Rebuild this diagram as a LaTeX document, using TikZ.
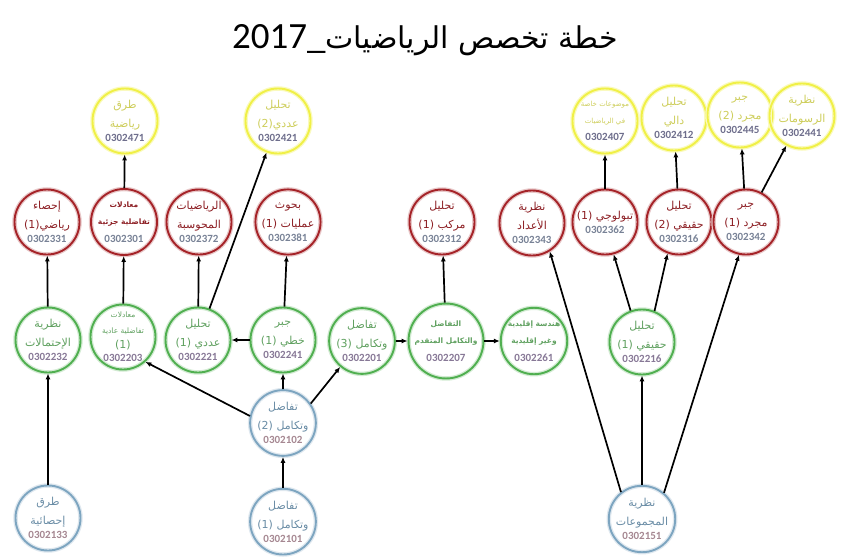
\documentclass[tikz,border=0pt]{standalone}
\usepackage{fontspec}
\newfontfamily\arabicfont[Script=Arabic]{DejaVu Sans}
\newfontfamily\numfont{Carlito}
\TeXXeTstate=1
\usetikzlibrary{arrows.meta,positioning}
\definecolor{yelline}{RGB}{240,240,70}
\definecolor{yeltext}{RGB}{205,205,90}
\definecolor{yelnum}{RGB}{110,110,140}
\definecolor{redline}{RGB}{165,35,40}
\definecolor{redtext}{RGB}{140,30,35}
\definecolor{rednum}{RGB}{120,130,150}
\definecolor{grnline}{RGB}{80,175,80}
\definecolor{grntext}{RGB}{95,160,95}
\definecolor{grnnum}{RGB}{135,120,150}
\definecolor{bluline}{RGB}{125,165,192}
\definecolor{blutext}{RGB}{105,140,165}
\definecolor{blunum}{RGB}{165,135,145}
\newcommand{\crsnum}[1]{{\numfont\bfseries\fontsize{11}{12}\selectfont\color{numcol}#1}}
\newcommand{\crs}[3]{#1\\#2\\[-5pt]\crsnum{#3}}
\newcommand{\smalltxt}{\fontsize{7.5}{11}\selectfont\bfseries}
\tikzset{
    course/.style={circle, minimum size=65pt, inner sep=0pt, line width=1.9pt,
        align=center, font=\arabicfont\fontsize{11}{19}\selectfont},
    yelcrs/.style={course, draw=yelline, text=yeltext,
        preaction={draw=yelline!35, line width=4.5pt},
        execute at begin node={\colorlet{numcol}{yelnum}}},
    redcrs/.style={course, draw=redline, text=redtext,
        preaction={draw=redline!25, line width=4.5pt},
        execute at begin node={\colorlet{numcol}{rednum}}},
    grncrs/.style={course, draw=grnline, text=grntext,
        preaction={draw=grnline!25, line width=4.5pt},
        execute at begin node={\colorlet{numcol}{grnnum}}},
    blucrs/.style={course, draw=bluline, text=blutext,
        preaction={draw=bluline!25, line width=4.5pt},
        execute at begin node={\colorlet{numcol}{blunum}}},
    prereq/.style={-{Latex[length=6pt,width=5pt]}, line width=1.7pt}
}
\begin{document}
\begin{tikzpicture}[x=1pt,y=-1pt]
\useasboundingbox (0,0) rectangle (844,557);

\node[font=\arabicfont\fontsize{30}{32}\selectfont] (title) at (425,40)
    {\beginR خطة تخصص الرياضيات{\numfont\fontsize{37}{38}\selectfont\char"5F\beginL 2017\endL}\endR};

% yellow row
\node[yelcrs] (y1) at (125,121) {\crs{\beginR طرق\endR}{\beginR رياضية\endR}{0302471}};
\node[yelcrs] (y2) at (278,121) {\crs{\beginR تحليل\endR}{\beginR عددي(2)\endR}{0302421}};
\node[yelcrs] (y3) at (605,121) {{\fontsize{7}{11}\selectfont\beginR موضوعات خاصة\endR}\\[-2pt]{\fontsize{7}{11}\selectfont\beginR في الرياضيات\endR}\\[-2pt]\crsnum{0302407}};
\node[yelcrs] (y4) at (674,118) {\crs{\beginR تحليل\endR}{\beginR دالي\endR}{0302412}};
\node[yelcrs] (y5) at (740,115) {\crs{\beginR جبر\endR}{\beginR مجرد (2)\endR}{0302445}};
\node[yelcrs] (y6) at (802,116) {\crs{\beginR نظرية\endR}{\beginR الرسومات\endR}{0302441}};

% red row
\node[redcrs] (r1) at (47,222) {\crs{\beginR إحصاء\endR}{\beginR رياضي(1)\endR}{0302331}};
\node[redcrs] (r2) at (124,222) {{\smalltxt\beginR معادلات\endR}\\[-2pt]{\smalltxt\beginR تفاضلية جزئية\endR}\\[-1pt]\crsnum{0302301}};
\node[redcrs] (r3) at (199,222) {\crs{\beginR الرياضيات\endR}{\beginR المحوسبة\endR}{0302372}};
\node[redcrs] (r4) at (288,222) {\crs{\beginR بحوث\endR}{\beginR عمليات (1)\endR}{0302381}};
\node[redcrs] (r5) at (442,222) {\crs{\beginR تحليل\endR}{\beginR مركب (1)\endR}{0302312}};
\node[redcrs] (r6) at (532,223) {\crs{\beginR نظرية\endR}{\beginR الأعداد\endR}{0302343}};
\node[redcrs] (r7) at (605,222) {\beginR تبولوجي (1)\endR\\[-5pt]\crsnum{0302362}};
\node[redcrs] (r8) at (679,222) {\crs{\beginR تحليل\endR}{\beginR حقيقي (2)\endR}{0302316}};
\node[redcrs] (r9) at (746,222) {\crs{\beginR جبر\endR}{\beginR مجرد (1)\endR}{0302342}};

% green row
\node[grncrs] (g1) at (48,340) {\crs{\beginR نظرية\endR}{\beginR الإحتمالات\endR}{0302232}};
\node[grncrs] (g2) at (123,337) {{\fontsize{7.5}{11}\selectfont\beginR معادلات\endR}\\[-3pt]{\fontsize{7.5}{11}\selectfont\beginR تفاضلية عادية\endR}\\[-4pt]\beginR (1)\endR\\[-6pt]\crsnum{0302203}};
\node[grncrs] (g3) at (198,340) {\crs{\beginR تحليل\endR}{\beginR عددي (1)\endR}{0302221}};
\node[grncrs] (g4) at (283,340) {\crs{\beginR جبر\endR}{\beginR خطي (1)\endR}{0302241}};
\node[grncrs] (g5) at (362,341) {\crs{\beginR تفاضل\endR}{\beginR وتكامل (3)\endR}{0302201}};
\node[grncrs] (g6) at (446,341) {{\smalltxt\beginR التفاضل\endR}\\[-2pt]{\smalltxt\beginR والتكامل المتقدم\endR}\\[-1pt]\crsnum{0302207}};
\node[grncrs] (g7) at (534,341) {{\smalltxt\beginR هندسة إقليدية\endR}\\[-2pt]{\smalltxt\beginR وغير إقليدية\endR}\\[-1pt]\crsnum{0302261}};
\node[grncrs] (g8) at (642,342) {\crs{\beginR تحليل\endR}{\beginR حقيقي (1)\endR}{0302216}};

% blue row
\node[blucrs] (b1) at (283,423) {\crs{\beginR تفاضل\endR}{\beginR وتكامل (2)\endR}{0302102}};
\node[blucrs, below=31pt of b1] (b2) {\crs{\beginR تفاضل\endR}{\beginR وتكامل (1)\endR}{0302101}};
\node[blucrs] (b3) at (48,518) {\crs{\beginR طرق\endR}{\beginR إحصائية\endR}{0302133}};
\node[blucrs] (b4) at (642,519) {\crs{\beginR نظرية\endR}{\beginR المجموعات\endR}{0302151}};

% prerequisites
\draw[prereq] (b3) -- (g1);
\draw[prereq] (g1) -- (r1);
\draw[prereq] (g2) -- (r2);
\draw[prereq] (r2) -- (y1);
\draw[prereq] (g3) -- (r3);
\draw[prereq] (g3) -- (y2);
\draw[prereq] (g4) -- (g3);
\draw[prereq] (g4) -- (r4);
\draw[prereq] (b2) -- (b1);
\draw[prereq] (b1) -- (g4);
\draw[prereq] (b1.168) -- (g2.-48);
\draw[prereq] (b1.35) -- (g5.-130);
\draw[prereq] (g5) -- (g6);
\draw[prereq] (g6) -- (g7);
\draw[prereq] (g6) -- (r5);
\draw[prereq] (r7) -- (y3);
\draw[prereq] (r8) -- (y4);
\draw[prereq] (r9) -- (y5);
\draw[prereq] (r9) -- (y6);
\draw[prereq] (g8.110) -- (r7.-75);
\draw[prereq] (g8.68) -- (r8.-110);
\draw[prereq] (b4) -- (g8);
\draw[prereq] (b4.128) -- (r6.-58);
\draw[prereq] (b4.50) -- (r9.-102);
\end{tikzpicture}
\end{document}
